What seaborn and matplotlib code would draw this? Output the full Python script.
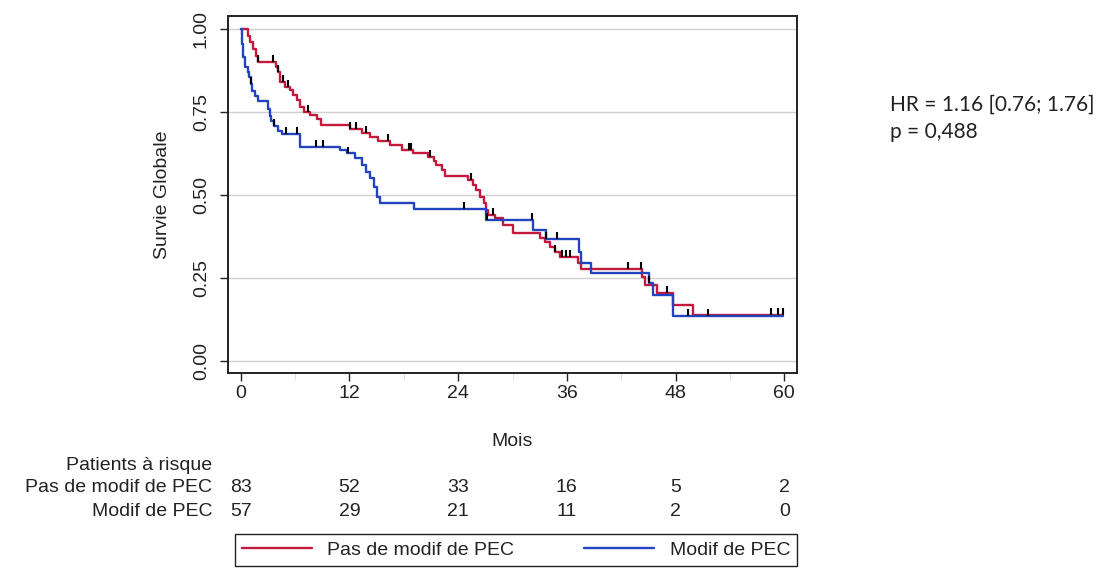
import numpy as np
import pandas as pd
import matplotlib
matplotlib.use("Agg")
import matplotlib.pyplot as plt
import matplotlib.transforms as mtransforms
from matplotlib.path import Path
from matplotlib.ticker import MultipleLocator
import seaborn as sns

# ---------------- data ----------------
groups = ["Pas de modif de PEC", "Modif de PEC"]

red_t = [0, 0.8, 1.0, 1.4, 1.7, 1.9, 3.9, 4.1, 4.3, 4.9, 5.4, 5.8, 6.2, 6.6, 7.0, 7.7,
         8.4, 8.9, 12.1, 13.4, 14.3, 15.2, 16.5, 17.8, 19.0, 20.7, 21.3, 21.6, 22.2,
         22.6, 25.1, 25.6, 26.0, 26.4, 26.8, 27.1, 27.3, 28.1, 29.0, 30.1, 33.0, 33.6,
         34.1, 34.7, 35.2, 37.2, 37.6, 44.3, 44.6, 45.9, 47.7, 49.9, 59.8]
red_s = [1.0, 0.98, 0.96, 0.94, 0.92, 0.90, 0.886, 0.871, 0.841, 0.826, 0.816, 0.80,
         0.786, 0.766, 0.75, 0.741, 0.73, 0.711, 0.699, 0.687, 0.675, 0.663, 0.651,
         0.636, 0.626, 0.614, 0.602, 0.59, 0.575, 0.557, 0.545, 0.53, 0.515, 0.494,
         0.476, 0.455, 0.44, 0.43, 0.41, 0.385, 0.37, 0.358, 0.343, 0.328, 0.313,
         0.295, 0.277, 0.253, 0.229, 0.205, 0.169, 0.139, 0.139]

blue_t = [0, 0.2, 0.3, 0.5, 0.77, 0.95, 1.1, 1.3, 1.6, 1.9, 2.97, 3.2, 3.35, 3.7, 4.07,
          4.6, 6.6, 11.0, 11.7, 12.6, 13.4, 13.8, 14.3, 14.7, 15.0, 15.4, 19.1, 27.1,
          32.3, 33.7, 37.3, 37.6, 38.7, 45.1, 45.5, 47.7, 59.8]
blue_s = [1.0, 0.955, 0.916, 0.885, 0.87, 0.855, 0.835, 0.813, 0.798, 0.783, 0.759,
          0.738, 0.723, 0.708, 0.693, 0.684, 0.645, 0.635, 0.625, 0.61, 0.59, 0.57,
          0.551, 0.524, 0.494, 0.476, 0.458, 0.425, 0.395, 0.367, 0.328, 0.295, 0.265,
          0.235, 0.199, 0.136, 0.136]

red_cens = [1.9, 3.6, 4.1, 4.7, 5.2, 7.4, 12.1, 12.7, 13.8, 16.3, 18.6, 18.8, 20.9,
            25.4, 27.9, 34.7, 35.5, 35.9, 36.4, 42.7, 44.2, 47.1, 58.5, 59.3, 59.8]
blue_cens = [1.1, 3.7, 5.0, 6.2, 8.3, 9.1, 11.8, 24.7, 27.2, 32.1, 33.7, 34.9, 45.1,
             49.4, 51.6]

risk_times = [0, 12, 24, 36, 48, 60]
risk_red = [83, 52, 33, 16, 5, 2]
risk_blue = [57, 29, 21, 11, 2, 0]

x_ticks = [0, 12, 24, 36, 48, 60]
y_ticks = [0.0, 0.25, 0.50, 0.75, 1.0]
y_ticklabels = ["0.00", "0.25", "0.50", "0.75", "1.00"]

hr_text = ["HR = 1.16 [0.76; 1.76]", "p = 0,488"]

colors = {"Pas de modif de PEC": "#C4183C", "Modif de PEC": "#2443BE"}

# ---------------- style ----------------
sns.set_theme(style="white")
plt.rcParams["font.family"] = ["Liberation Sans", "DejaVu Sans"]
plt.rcParams["legend.fancybox"] = False

curves = pd.concat([
    pd.DataFrame({"t": red_t, "s": red_s, "g": groups[0]}),
    pd.DataFrame({"t": blue_t, "s": blue_s, "g": groups[1]}),
])

def step_val(times, surv, q):
    idx = np.searchsorted(np.asarray(times), np.asarray(q), side="right") - 1
    return np.asarray(surv)[idx]

cens = pd.concat([
    pd.DataFrame({"t": red_cens, "s": step_val(red_t, red_s, red_cens), "g": groups[0]}),
    pd.DataFrame({"t": blue_cens, "s": step_val(blue_t, blue_s, blue_cens), "g": groups[1]}),
])

W, H = 1108, 574
fig = plt.figure(figsize=(W / 100, H / 100), dpi=100)
ax = fig.add_axes([228 / W, 1 - 373 / H, 569 / W, 357 / H])

sns.lineplot(data=curves, x="t", y="s", hue="g", hue_order=groups, palette=colors,
             drawstyle="steps-post", linewidth=1.7, sort=True, estimator=None,
             ax=ax, legend=True)
# censoring ticks: short vertical segment rising from the curve
tick_marker = Path([(0, 0), (0, 1)])
sns.scatterplot(data=cens, x="t", y="s", marker=tick_marker, s=100,
                facecolor="none", edgecolor="black", linewidth=1.5,
                ax=ax, legend=False, zorder=5)

ax.set_xlim(-1.40, 61.4)
ax.set_ylim(-0.036, 1.039)
ax.set_xticks(x_ticks)
ax.set_xticklabels([str(v) for v in x_ticks], fontsize=14)
ax.xaxis.set_minor_locator(MultipleLocator(6))
ax.set_yticks(y_ticks)
ax.set_yticklabels(y_ticklabels, fontsize=14, rotation=90, va="center")
ax.yaxis.grid(True, color="#D0D0D0", linewidth=1.0)
ax.xaxis.grid(False)
ax.set_axisbelow(True)
for sp in ax.spines.values():
    sp.set_color("#222222")
    sp.set_linewidth(1.4)
ax.tick_params(axis="both", which="major", direction="out", length=6, width=1.0,
               color="#222222", left=True, bottom=True, labelcolor="#222222")
ax.tick_params(axis="y", which="major", pad=7)
ax.tick_params(axis="x", which="major", pad=3)
ax.tick_params(axis="x", which="minor", direction="out", length=4, width=0.8,
               color="#DDDDDD", bottom=True)
ax.set_xlabel("Mois", fontsize=14, labelpad=22, color="#222222")
ax.set_ylabel("Survie Globale", fontsize=14, labelpad=16, color="#222222")

# risk table
trans = mtransforms.blended_transform_factory(ax.transData, fig.transFigure)
tfs = 14
fig.text(212 / W, 1 - 465 / H, "Patients à risque", ha="right", va="center", fontsize=tfs, color="#222222")
fig.text(212 / W, 1 - 488 / H, groups[0], ha="right", va="center", fontsize=tfs, color="#222222")
fig.text(212 / W, 1 - 512 / H, groups[1], ha="right", va="center", fontsize=tfs, color="#222222")
for t, a, b in zip(risk_times, risk_red, risk_blue):
    fig.text(t, 1 - 488 / H, str(a), transform=trans, ha="center", va="center", fontsize=tfs, color="#222222")
    fig.text(t, 1 - 512 / H, str(b), transform=trans, ha="center", va="center", fontsize=tfs, color="#222222")

# legend (below the risk table)
sns.move_legend(ax, loc="center", bbox_to_anchor=(0.012, -0.538, 0.988, 0.084),
                mode="expand", ncol=2, title=None, frameon=True, fontsize=14,
                handlelength=3.6, borderaxespad=0, borderpad=0.35)
leg = ax.get_legend()
leg.get_frame().set_edgecolor("#222222")
leg.get_frame().set_linewidth(1.0)
leg.get_frame().set_alpha(1)
for line in leg.get_lines():
    line.set_linewidth(1.7)
for txt in leg.get_texts():
    txt.set_color("#222222")

# HR annotation
fig.text(890 / W, 1 - 105 / H, hr_text[0], ha="left", va="center", fontsize=15,
         family=["Lato", "DejaVu Sans"], color="#222222")
fig.text(890 / W, 1 - 132 / H, hr_text[1], ha="left", va="center", fontsize=15,
         family=["Lato", "DejaVu Sans"], color="#222222")

fig.savefig("out.png", dpi=100)
